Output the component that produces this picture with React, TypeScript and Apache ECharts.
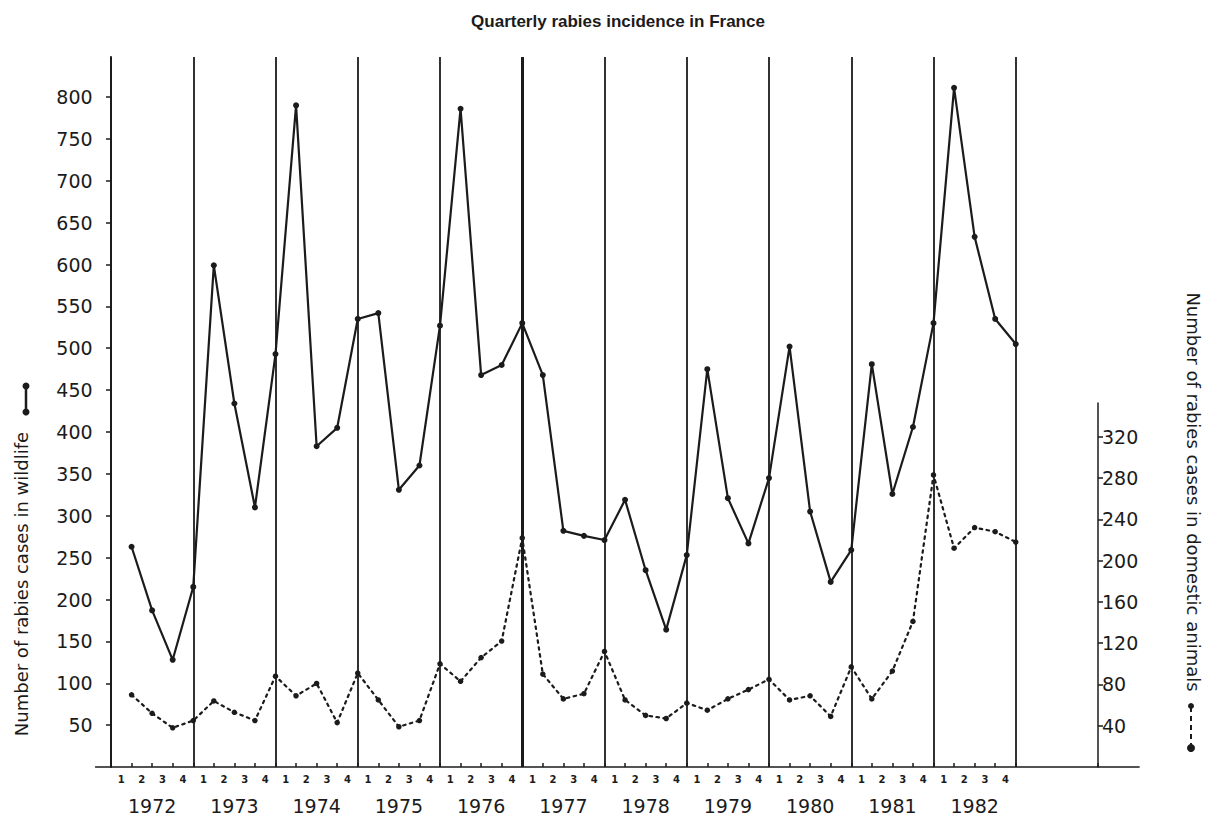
import React, { useEffect, useRef } from "react";
import * as echarts from "echarts";

// ---------- data ----------
const TITLE = "Quarterly rabies incidence in France";
const WILDLIFE_TITLE = "Number of rabies cases in wildlife";
const DOMESTIC_TITLE = "Number of rabies cases in domestic animals";

const YEARS = ["1972", "1973", "1974", "1975", "1976", "1977", "1978", "1979", "1980", "1981", "1982"];
const QUARTER_LABELS = ["1", "2", "3", "4"];

// wildlife cases, one value per quarter (1972 Q1 .. 1982 Q4)
const WILDLIFE = [
  263, 187, 128, 215,
  599, 434, 310, 493,
  790, 383, 405, 535,
  542, 331, 360, 527,
  786, 468, 480, 530,
  468, 282, 276, 271,
  319, 235, 164, 253,
  475, 321, 267, 345,
  502, 305, 221, 259,
  481, 326, 406, 530,
  811, 633, 535, 505,
];

// domestic animal cases, one value per quarter (1972 Q1 .. 1982 Q4)
const DOMESTIC = [
  70, 52, 38, 45,
  64, 53, 45, 88,
  69, 81, 43, 91,
  65, 39, 45, 100,
  83, 106, 122, 222,
  90, 66, 71, 112,
  65, 50, 47, 62,
  55, 66, 75, 85,
  65, 69, 49, 97,
  66, 93, 141, 283,
  212, 232, 228, 218,
];

const WILDLIFE_TICKS = [50, 100, 150, 200, 250, 300, 350, 400, 450, 500, 550, 600, 650, 700, 750, 800];
const DOMESTIC_TICKS = [40, 80, 120, 160, 200, 240, 280, 320];

// ---------- layout ----------
const X0 = 111; // pixel of quarter 0 (start of 1972)
const Q_PX = 20.5625; // pixels per quarter
const X_MIN = -0.75;
const X_MAX = 50;
const AXIS_END_Q = 48; // right-hand axis position (quarters)
const BASE_Y = 767;
const TOP_Y = 57;
const RIGHT_TOP_Y = 403;
const WILD_PX = 0.8375; // px per wildlife case
const DOM_PX = 1.032; // px per domestic case

const INK = "#1b1b1b";
const FONT = "DejaVu Sans";

function buildOption() {
  const nQ = YEARS.length * 4;
  const wildData = WILDLIFE.map((v, i) => [i + 1, v]);
  const domData = DOMESTIC.map((v, i) => [i + 1, v]);
  const yearBounds = YEARS.map((_, i) => (i + 1) * 4);
  const quarterTicks = Array.from({ length: nQ + 1 }, (_, i) => i).concat([AXIS_END_Q]);
  const quarterLabelPos = Array.from({ length: nQ }, (_, i) => i + 0.5);
  const yearLabelPos = YEARS.map((_, i) => i * 4 + 2);

  const gridLeft = X0 + X_MIN * Q_PX;
  const gridWidth = (X_MAX - X_MIN) * Q_PX;
  const rightAxisX = X0 + AXIS_END_Q * Q_PX;

  return {
    animation: false,
    backgroundColor: "#ffffff",
    title: {
      text: TITLE,
      left: 613,
      top: 8,
      textAlign: "center",
      textStyle: { fontFamily: "Liberation Sans", fontWeight: "bold", fontSize: 17, color: INK },
    },
    grid: [
      { left: gridLeft, width: gridWidth, top: TOP_Y, height: BASE_Y - TOP_Y, containLabel: false },
      { left: rightAxisX - 8, width: 8, top: RIGHT_TOP_Y, height: BASE_Y - RIGHT_TOP_Y, containLabel: false },
    ],
    xAxis: [
      {
        gridIndex: 0,
        type: "value",
        min: X_MIN,
        max: X_MAX,
        position: "bottom",
        axisLine: { show: true, onZero: false, lineStyle: { color: INK, width: 1.5 } },
        axisTick: { show: true, inside: true, length: 4, customValues: quarterTicks, lineStyle: { color: INK, width: 1.5 } },
        axisLabel: {
          show: true,
          customValues: quarterLabelPos,
          formatter: (v: number) => QUARTER_LABELS[Math.floor(v) % 4],
          fontFamily: FONT,
          fontSize: 10,
          fontWeight: "bold",
          color: INK,
          margin: 7,
        },
        splitLine: { show: false },
      },
      {
        gridIndex: 0,
        type: "value",
        min: X_MIN,
        max: X_MAX,
        position: "bottom",
        axisLine: { show: false, onZero: false },
        axisTick: { show: false },
        axisLabel: {
          show: true,
          customValues: yearLabelPos,
          formatter: (v: number) => YEARS[Math.round((v - 2) / 4)] ?? "",
          fontFamily: FONT,
          fontSize: 19,
          color: INK,
          margin: 29,
        },
        splitLine: { show: false },
      },
      { gridIndex: 1, type: "value", show: false, min: 0, max: 1 },
    ],
    yAxis: [
      {
        gridIndex: 0,
        type: "value",
        min: 0,
        max: (BASE_Y - TOP_Y) / WILD_PX,
        position: "left",
        axisLine: { show: true, onZero: true, onZeroAxisIndex: 0, lineStyle: { color: INK, width: 2 } },
        axisTick: { show: true, length: 5, customValues: WILDLIFE_TICKS, lineStyle: { color: INK, width: 1.5 } },
        axisLabel: { show: true, customValues: WILDLIFE_TICKS, fontFamily: FONT, fontSize: 19, color: INK, margin: 3 },
        splitLine: { show: false },
      },
      {
        gridIndex: 0,
        type: "value",
        min: 0,
        max: (BASE_Y - TOP_Y) / DOM_PX,
        show: false,
        position: "right",
        splitLine: { show: false },
      },
      {
        gridIndex: 1,
        type: "value",
        min: 0,
        max: (BASE_Y - RIGHT_TOP_Y) / DOM_PX,
        position: "right",
        axisLine: { show: true, onZero: false, lineStyle: { color: INK, width: 1.5 } },
        axisTick: { show: true, length: 5, customValues: DOMESTIC_TICKS, lineStyle: { color: INK, width: 1.5 } },
        axisLabel: { show: true, customValues: DOMESTIC_TICKS, fontFamily: FONT, fontSize: 19, color: INK, margin: 4 },
        splitLine: { show: false },
      },
    ],
    series: [
      {
        name: "wildlife",
        type: "line",
        xAxisIndex: 0,
        yAxisIndex: 0,
        data: wildData,
        symbol: "circle",
        symbolSize: 6,
        itemStyle: { color: INK },
        lineStyle: { color: INK, width: 2.2 },
        z: 3,
        markLine: {
          silent: true,
          symbol: ["none", "none"],
          label: { show: false },
          lineStyle: { color: INK, width: 1.8, type: "solid" },
          data: yearBounds.map((q) => ({ xAxis: q, lineStyle: { width: q === 20 ? 3 : 1.8 } })),
        },
      },
      {
        name: "domestic",
        type: "line",
        xAxisIndex: 0,
        yAxisIndex: 1,
        data: domData,
        symbol: "circle",
        symbolSize: 5.5,
        itemStyle: { color: INK },
        lineStyle: { color: INK, width: 2.2, type: [2.5, 4.5], cap: "round" },
        z: 3,
      },
    ],
    graphic: [
      // left axis title with its series key
      {
        type: "text",
        x: 21,
        y: 584,
        rotation: Math.PI / 2,
        style: { text: WILDLIFE_TITLE, fontFamily: FONT, fontSize: 18, fill: INK, textAlign: "center", textVerticalAlign: "middle" },
      },
      { type: "line", shape: { x1: 26, y1: 386, x2: 26, y2: 412 }, style: { stroke: INK, lineWidth: 2.5 } },
      { type: "circle", shape: { cx: 26, cy: 386, r: 3.5 }, style: { fill: INK } },
      { type: "circle", shape: { cx: 26, cy: 412, r: 3.5 }, style: { fill: INK } },
      // right axis title with its series key
      {
        type: "text",
        x: 1193,
        y: 492,
        rotation: -Math.PI / 2,
        style: { text: DOMESTIC_TITLE, fontFamily: FONT, fontSize: 18, fill: INK, textAlign: "center", textVerticalAlign: "middle" },
      },
      { type: "line", shape: { x1: 1191, y1: 707, x2: 1191, y2: 746 }, style: { stroke: INK, lineWidth: 2, lineDash: [5, 4] } },
      { type: "circle", shape: { cx: 1191, cy: 706, r: 3 }, style: { fill: INK } },
      { type: "circle", shape: { cx: 1191, cy: 748, r: 4 }, style: { fill: INK } },
    ],
  };
}

export default function App() {
  const ref = useRef<HTMLDivElement>(null);
  useEffect(() => {
    if (!ref.current) return;
    const chart = echarts.init(ref.current, null, { renderer: "svg" });
    chart.setOption(buildOption() as any);
    return () => chart.dispose();
  }, []);
  return (
    <div
      ref={ref}
      style={{ position: "fixed", left: 0, top: 0, width: 1209, height: 817, background: "#ffffff" }}
    />
  );
}
